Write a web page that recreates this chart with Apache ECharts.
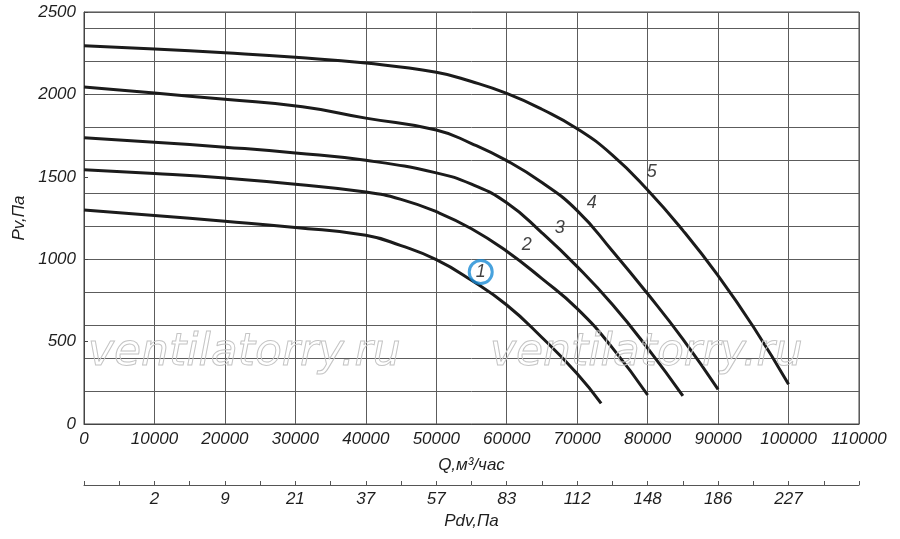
<!DOCTYPE html>
<html>
<head>
<meta charset="utf-8">
<script src="https://cdn.jsdelivr.net/npm/echarts@6/dist/echarts.min.js"></script>
<style>
    html, body {margin: 0; padding: 0; background: #fff;}
    #chartmain {width: 900px; height: 539px;}
</style>
</head>
<body>
<div id="chartmain"></div>
<script>
// характеристики вентилятора: Q, м3/час -> Pv, Па
var curve1 = [[0, 1298], [10000, 1265], [20000, 1230], [30000, 1192], [40000, 1145], [45000, 1082], [50000, 997],
    [55000, 872], [60000, 722], [65000, 525], [70000, 305], [73400, 125]]
var curve2 = [[0, 1543], [10000, 1520], [20000, 1492], [30000, 1455], [40000, 1408], [45000, 1363], [50000, 1288],
    [55000, 1185], [60000, 1048], [65000, 882], [70000, 700], [75000, 462], [80000, 176]]
var curve3 = [[0, 1737], [10000, 1710], [20000, 1680], [30000, 1645], [40000, 1600], [50000, 1524], [55000, 1455],
    [60000, 1342], [65000, 1160], [70000, 955], [75000, 725], [80000, 460], [85000, 170]]
var curve4 = [[0, 2045], [10000, 2008], [20000, 1970], [31000, 1925], [40000, 1856], [50000, 1784], [55000, 1702],
    [60000, 1598], [65000, 1465], [70000, 1295], [75000, 1050], [80000, 790], [85000, 515], [90000, 210]]
var curve5 = [[0, 2295], [10000, 2275], [20000, 2252], [30000, 2225], [40000, 2190], [50000, 2134], [55000, 2078],
    [60000, 2006], [65000, 1910], [70000, 1792], [75000, 1632], [80000, 1420], [85000, 1175], [90000, 900],
    [95000, 590], [100000, 241]]
var curves = [curve1, curve2, curve3, curve4, curve5]

// номера кривых
var curveNames = ['1', '2', '3', '4', '5']
var nameQ = [56310, 62840, 67520, 72060, 80570]
var nameP = [922, 1086, 1189, 1341, 1529]

// шкала динамического давления под осью Q
var pdvLabels = ['', '2', '9', '21', '37', '57', '83', '112', '148', '186', '227', '']

var textColor = '#1e1e1e'
var gridColor = '#5c5c5c'
var fontBase = {fontFamily: 'Liberation Sans', fontStyle: 'italic', fontSize: 17, color: textColor}

var myChart = echarts.init(document.getElementById('chartmain'));

var series = []
for (let i = 0; i < curves.length; i++) {
    series.push({
        type: 'line',
        data: curves[i],
        smooth: 0.5,
        symbol: 'none',
        lineStyle: {color: '#1b1b1b', width: 3},
        z: 3
    })
}
var nameData = []
for (let i = 0; i < curveNames.length; i++) {
    nameData.push([nameQ[i], nameP[i], curveNames[i]])
}
series.push({
    type: 'scatter',
    data: nameData,
    symbolSize: 1,
    itemStyle: {color: 'rgba(0,0,0,0)'},
    label: {
        show: true,
        position: 'inside',
        formatter: function (p) {
            return p.value[2]
        },
        fontFamily: 'Liberation Sans', fontStyle: 'italic', fontSize: 18, color: '#111'
    },
    z: 5
})
// синий кружок вокруг кривой 1
series.push({
    type: 'scatter',
    data: [[nameQ[0], nameP[0]]],
    symbol: 'circle',
    symbolSize: 23,
    itemStyle: {color: 'rgba(0,0,0,0)', borderColor: '#1a8bd4', borderWidth: 3},
    z: 4
})

myChart.setOption({
    animation: false,
    grid: {
        left: 84, right: 41, top: 12, bottom: 115,
        show: true, borderColor: '#444', borderWidth: 1
    },
    xAxis: [{
        type: 'value',
        min: 0, max: 110000, interval: 10000,
        position: 'bottom',
        name: 'Q,м³/час',
        nameLocation: 'middle',
        nameGap: 33,
        nameTextStyle: fontBase,
        axisLine: {show: true, onZero: false, lineStyle: {color: '#444'}},
        axisTick: {show: false},
        axisLabel: Object.assign({
            margin: 7,
            formatter: function (v) {
                return String(v)
            }
        }, fontBase),
        splitLine: {show: true, lineStyle: {color: gridColor, width: 1}}
    }, {
        type: 'value',
        min: 0, max: 110000, interval: 5000,
        position: 'bottom',
        offset: 61,
        name: 'Pdv,Па',
        nameLocation: 'middle',
        nameGap: 28,
        nameTextStyle: fontBase,
        axisLine: {show: true, onZero: false, lineStyle: {color: '#555'}},
        axisTick: {show: true, inside: true, length: 4, lineStyle: {color: '#555'}},
        axisLabel: Object.assign({
            margin: 6,
            showMinLabel: true, showMaxLabel: true,
            formatter: function (v) {
                if (v % 10000 === 0) return pdvLabels[v / 10000]
                return ''
            }
        }, fontBase),
        splitLine: {show: false}
    }],
    yAxis: [{
        type: 'value',
        min: 0, max: 2500, interval: 200,
        position: 'left',
        axisLine: {show: false},
        axisTick: {show: false},
        axisLabel: {show: false},
        splitLine: {show: true, lineStyle: {color: gridColor, width: 1}}
    }, {
        type: 'value',
        min: 0, max: 2500, interval: 500,
        position: 'left',
        name: 'Pv,Па',
        nameLocation: 'middle',
        nameGap: 56,
        nameRotate: 90,
        nameTextStyle: fontBase,
        axisLine: {show: true, onZero: false, lineStyle: {color: '#444'}},
        axisTick: {show: true, inside: true, length: 4, lineStyle: {color: '#444'}},
        axisLabel: Object.assign({
            margin: 8,
            formatter: function (v) {
                return String(v)
            }
        }, fontBase),
        splitLine: {show: false}
    }],
    graphic: [{
        type: 'text', x: 88, y: 354, z: 10,
        style: {
            text: 'ventilatorry.ru', font: 'italic 44px "DejaVu Sans"',
            fill: 'rgba(255,255,255,0)', stroke: '#c4c4c4', lineWidth: 1,
            align: 'left', verticalAlign: 'middle'
        }
    }, {
        type: 'text', x: 490, y: 354, z: 10,
        style: {
            text: 'ventilatorry.ru', font: 'italic 44px "DejaVu Sans"',
            fill: 'rgba(255,255,255,0)', stroke: '#c4c4c4', lineWidth: 1,
            align: 'left', verticalAlign: 'middle'
        }
    }],
    series: series
});
</script>
</body>
</html>
